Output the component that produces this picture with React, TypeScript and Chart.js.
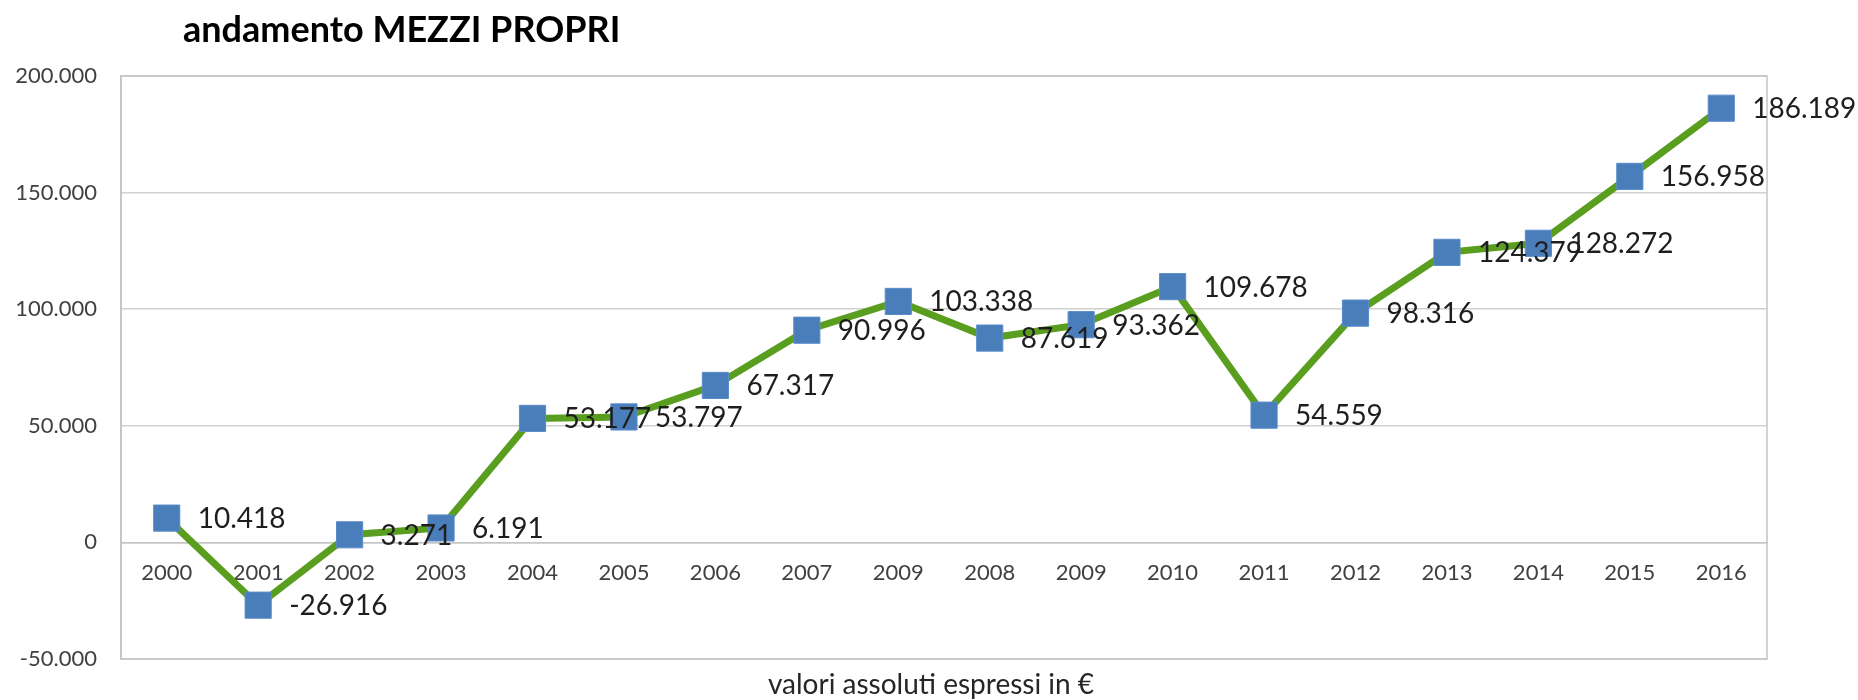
import React, { useEffect, useRef } from 'react';
import { Chart, registerables } from 'chart.js';

Chart.register(...registerables);

const TITLE = 'andamento MEZZI PROPRI';
const AXIS_TITLE = 'valori assoluti espressi in €';
const categories = ['2000', '2001', '2002', '2003', '2004', '2005', '2006', '2007', '2009', '2008', '2009', '2010', '2011', '2012', '2013', '2014', '2015', '2016'];
const values = [10418, -26916, 3271, 6191, 53177, 53797, 67317, 90996, 103338, 87619, 93362, 109678, 54559, 98316, 124379, 128272, 156958, 186189];
const yMin = -50000;
const yMax = 200000;
const yStep = 50000;

const FONT = "Lato, 'Open Sans', sans-serif";

function fmt(v: number): string {
  const neg = v < 0;
  const s = String(Math.abs(Math.round(v)));
  let out = '';
  for (let i = 0; i < s.length; i++) {
    const rem = s.length - i;
    out += s[i];
    if (rem > 1 && (rem - 1) % 3 === 0) out += '.';
  }
  return (neg ? '-' : '') + out;
}

const framePlugin = {
  id: 'frame',
  beforeDatasetsDraw(chart: any) {
    const { ctx, chartArea } = chart;
    ctx.save();
    ctx.strokeStyle = '#C4C4C4';
    ctx.lineWidth = 1.5;
    ctx.strokeRect(chartArea.left, chartArea.top, chartArea.right - chartArea.left, chartArea.bottom - chartArea.top);
    ctx.restore();
  },
};

const labelPlugin = {
  id: 'pointLabels',
  afterDatasetsDraw(chart: any) {
    const { ctx } = chart;
    const meta = chart.getDatasetMeta(0);
    ctx.save();
    ctx.font = `28px ${FONT}`;
    ctx.fillStyle = '#1E1E1E';
    ctx.textAlign = 'left';
    ctx.textBaseline = 'middle';
    meta.data.forEach((pt: any, i: number) => {
      ctx.fillText(fmt(values[i]), pt.x + 31, pt.y + 1);
    });
    ctx.restore();
  },
};

const textPlugin = {
  id: 'texts',
  afterDraw(chart: any) {
    const { ctx } = chart;
    ctx.save();
    ctx.fillStyle = '#000000';
    ctx.font = `bold 36px ${FONT}`;
    ctx.textAlign = 'left';
    ctx.textBaseline = 'middle';
    ctx.fillText(TITLE, 183, 30);
    ctx.font = `28px ${FONT}`;
    ctx.fillStyle = '#262626';
    ctx.textAlign = 'center';
    ctx.fillText(AXIS_TITLE, 931, 685);
    ctx.restore();
  },
};

export default function App() {
  const ref = useRef<HTMLCanvasElement | null>(null);

  useEffect(() => {
    if (!ref.current) return;
    const chart = new Chart(ref.current, {
      type: 'line',
      data: {
        labels: categories,
        datasets: [
          {
            data: values,
            borderColor: '#5A9E1F',
            borderWidth: 7,
            tension: 0,
            pointStyle: 'rect',
            pointRadius: 18.5,
            pointHoverRadius: 18.5,
            pointBackgroundColor: '#4A7EBB',
            pointBorderColor: '#5A8CCA',
            pointBorderWidth: 1,
          },
        ],
      },
      options: {
        animation: false,
        responsive: true,
        maintainAspectRatio: false,
        layout: { padding: { left: 0, right: 91, top: 76, bottom: 41 } },
        plugins: {
          legend: { display: false },
          title: { display: false },
          tooltip: { enabled: false },
        },
        scales: {
          x: {
            type: 'category',
            position: { y: 0 } as any,
            offset: true,
            grid: { display: false, drawTicks: false },
            border: { display: true, color: '#C4C4C4', width: 1.5 },
            ticks: {
              font: { family: FONT, size: 22 },
              color: '#404040',
              padding: 17,
              maxRotation: 0,
              autoSkip: false,
            },
            afterFit(scale: any) {
              scale.height = 0;
            },
          },
          y: {
            min: yMin,
            max: yMax,
            grid: { color: '#D0D0D0', lineWidth: 1.5, drawTicks: false },
            border: { display: true, color: '#C4C4C4', width: 1.5 },
            ticks: {
              stepSize: yStep,
              font: { family: FONT, size: 22 },
              color: '#404040',
              padding: 24,
              callback: (v: any) => fmt(Number(v)),
            },
            afterFit(scale: any) {
              scale.width = 121;
            },
          },
        },
      },
      plugins: [framePlugin, labelPlugin, textPlugin],
    });
    return () => chart.destroy();
  }, []);

  return (
    <div style={{ position: 'fixed', left: 0, top: 0, width: '1858px', height: '700px', background: '#fff' }}>
      <canvas ref={ref} />
    </div>
  );
}
